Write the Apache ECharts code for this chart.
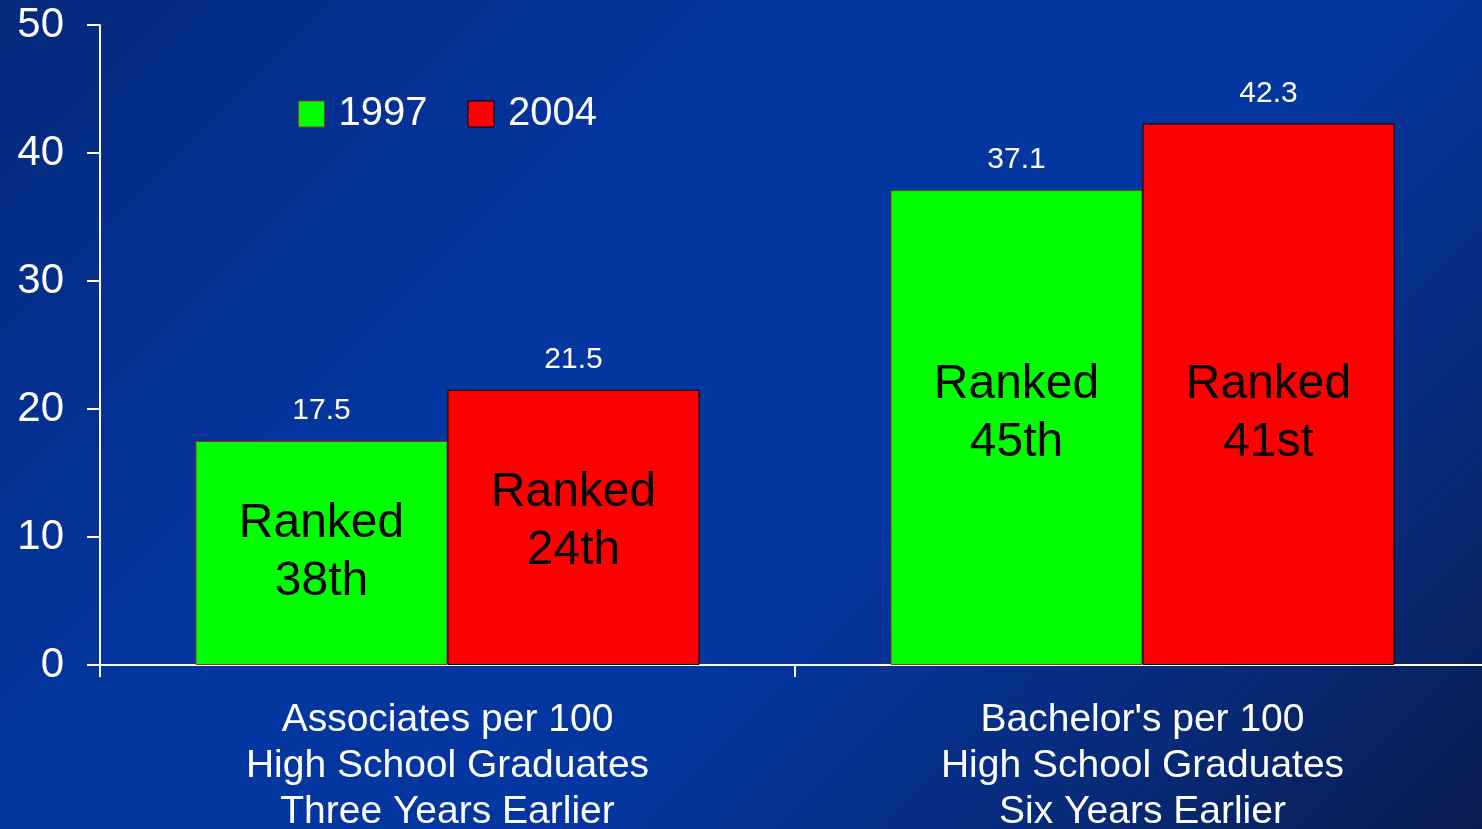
<!DOCTYPE html>
<html>
<head>
<meta charset="utf-8">
<script src="https://cdn.jsdelivr.net/npm/echarts@6/dist/echarts.min.js"></script>
<style>
  html, body { margin: 0; padding: 0; overflow: hidden; }
  body {
    width: 1482px;
    height: 829px;
    background: linear-gradient(135deg, #04297c 0%, #0436a0 35%, #0436a0 60%, #072a78 82%, #0b1c50 100%);
  }
  #chart { width: 1482px; height: 829px; }
</style>
</head>
<body>
<div id="chart"></div>
<script>
const categories = [
  'Associates per 100\nHigh School Graduates\nThree Years Earlier',
  "Bachelor's per 100\nHigh School Graduates\nSix Years Earlier",
];
const seriesNames = ['1997', '2004'];
const values1997 = [17.5, 37.1];
const values2004 = [21.5, 42.3];
const ranks1997 = ['Ranked\n38th', 'Ranked\n45th'];
const ranks2004 = ['Ranked\n24th', 'Ranked\n41st'];
const yTicks = [0, 10, 20, 30, 40, 50];

const FONT = '"Liberation Sans", Arial, sans-serif';
const GREEN = '#00ff00';
const RED = '#ff0000';
// the rank text boxes sit a little off the bar centres in the original slide
const RANK_SHIFT = { '1997': [0, -14], '2004': [-6, 19] };

// coloured bar with its rank text inside
function rankBars(name, values, ranks, color, borderColor) {
  return {
    name,
    type: 'bar',
    stack: 's' + name,
    barWidth: 252,
    barGap: '0%',
    itemStyle: { color, borderColor, borderWidth: 1 },
    label: {
      show: true,
      position: 'inside',
      color: '#000000',
      fontFamily: FONT,
      fontSize: 48,
      lineHeight: 58,
      formatter: (p) => ranks[p.dataIndex],
    },
    data: values.map((value, i) => ({
      value,
      label: { offset: [0, RANK_SHIFT[name][i]] },
    })),
  };
}

// zero-height bar stacked on top, only carries the value label
function valueCaps(name, values) {
  return {
    name: 'v' + name,
    type: 'bar',
    stack: 's' + name,
    barWidth: 252,
    barGap: '0%',
    silent: true,
    itemStyle: { color: 'transparent' },
    label: {
      show: true,
      position: 'top',
      distance: 15,
      color: '#ffffff',
      fontFamily: FONT,
      fontSize: 30,
      formatter: (p) => String(values[p.dataIndex]),
    },
    data: values.map(() => 0),
  };
}

const chart = echarts.init(document.getElementById('chart'), null, { renderer: 'canvas' });

chart.setOption({
  animation: false,
  backgroundColor: 'transparent',
  textStyle: { fontFamily: FONT },
  legend: {
    left: 293,
    top: 89,
    itemWidth: 26,
    itemHeight: 26,
    itemGap: 40,
    icon: 'rect',
    data: [
      { name: seriesNames[0], itemStyle: { borderColor: '#8b3a1a', borderWidth: 1 } },
      { name: seriesNames[1], itemStyle: { borderColor: '#000000', borderWidth: 1 } },
    ],
    textStyle: { color: '#ffffff', fontSize: 40, fontFamily: FONT, padding: [0, 0, 0, 9] },
  },
  grid: {
    left: 100,
    top: 25,
    width: 1390,
    height: 640,
    containLabel: false,
    outerBoundsMode: 'none',
  },
  xAxis: {
    type: 'category',
    data: categories,
    axisLine: { show: true, lineStyle: { color: '#ffffff', width: 2 } },
    axisTick: { show: true, length: 12, lineStyle: { color: '#ffffff', width: 2 } },
    axisLabel: {
      color: '#ffffff',
      fontSize: 39,
      lineHeight: 46,
      margin: 32,
      fontFamily: FONT,
    },
  },
  yAxis: {
    type: 'value',
    min: yTicks[0],
    max: yTicks[yTicks.length - 1],
    interval: 10,
    axisLine: { show: true, lineStyle: { color: '#ffffff', width: 2 } },
    axisTick: { show: true, inside: false, length: 13, lineStyle: { color: '#ffffff', width: 2 } },
    axisLabel: {
      color: '#ffffff',
      fontSize: 42,
      margin: 36,
      fontFamily: FONT,
    },
    splitLine: { show: false },
  },
  series: [
    rankBars(seriesNames[0], values1997, ranks1997, GREEN, '#8b3a1a'),
    valueCaps(seriesNames[0], values1997),
    rankBars(seriesNames[1], values2004, ranks2004, RED, '#000000'),
    valueCaps(seriesNames[1], values2004),
  ],
});
</script>
</body>
</html>
